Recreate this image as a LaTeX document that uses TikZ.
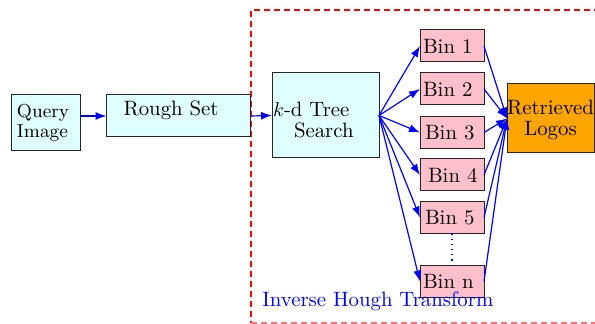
\documentclass[tikz,border=0pt]{standalone}
\usetikzlibrary{arrows.meta}
\definecolor{boxcyan}{RGB}{224,255,255}
\definecolor{binpink}{RGB}{255,192,203}
\definecolor{logoorange}{RGB}{255,165,0}
\tikzset{
  mainfont/.style={font=\fontsize{10.4}{12}\selectfont},
  box/.style={draw=black!85, line width=0.5pt, inner ysep=0pt, outer sep=0pt, mainfont},
  cyanbox/.style={box, fill=boxcyan},
  binbox/.style={box, fill=binpink, minimum width=32pt, minimum height=16pt,
                 text width=29pt, inner xsep=1.5pt, align=left},
  flow/.style={blue, line width=0.6pt, -{Latex[length=5.5pt,width=4pt]}},
  regionline/.style={red, line width=0.6pt, dash pattern=on 3pt off 2pt},
}
\begin{document}
\begin{tikzpicture}[x=0.5pt, y=-0.5pt]
  \useasboundingbox (0,0) rectangle (595,324);

  % region of the inverse Hough transform
  \draw[regionline] (600,10) -- (251,10) -- (251,323);
  \draw[regionline, red!55] (251,323) -- (600,323);

  % input side
  \node[cyanbox, minimum height=28pt, text width=28.5pt, inner xsep=3pt, align=left,
        font=\fontsize{9.4}{11}\selectfont]
    (query) at (45.5,123) {Query\\[-1pt]Image};
  \node[cyanbox, minimum height=21pt, text width=55pt, inner xsep=8.5pt, align=left,
        text height=7pt, text depth=7pt]
    (rough) at (178.5,116) {Rough Set};
  \node[cyanbox, minimum height=42.5pt, text width=52.5pt, inner xsep=0.5pt, align=left,
        text height=12pt, text depth=10.5pt]
    (kd) at (325.5,115.5) {$k$-d Tree\\[-1.5pt]\hspace*{10.5pt}Search};

  % bins
  \node[binbox] (bin1) at (452,46)    {Bin 1};
  \node[binbox] (bin2) at (452,89)    {Bin 2};
  \node[binbox] (bin3) at (452,132.5) {\hspace*{1pt}Bin 3};
  \node[binbox] (bin4) at (452,175)   {\hspace*{2.5pt}Bin 4};
  \node[binbox] (bin5) at (452,217.5) {\hspace*{1pt}Bin 5};
  \node[binbox] (binn) at (452,281.5) {Bin n};

  % output
  \node[box, fill=logoorange, minimum width=43.5pt, minimum height=34.5pt,
        inner xsep=0pt, align=center, text height=19.5pt, text depth=2pt]
    (ret) at (550.5,118.5) {Retrieved\\[-1.5pt]Logos};

  % connectors
  \draw[flow] (query.east |- rough.west) -- (rough.west);
  \draw[flow] (rough.east) -- (kd.west);
  \foreach \b in {bin1,bin2,bin3,bin4,bin5,binn} {
    \draw[flow] (kd.east) -- (\b.west);
    \draw[flow] (\b.east) -- (ret.west);
  }
  \draw[blue, line width=0.6pt, dotted] (bin5.south) -- (binn.north);

  \node[blue, mainfont, anchor=base west, inner sep=0pt] (iht) at (262,307) {Inverse Hough Transform};
\end{tikzpicture}
\end{document}
